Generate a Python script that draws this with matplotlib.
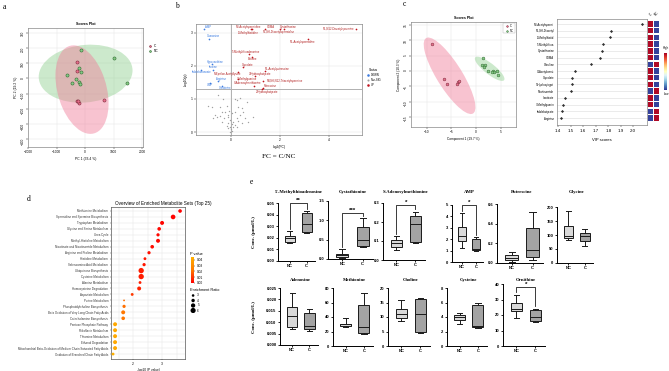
import numpy as np
import matplotlib
matplotlib.use('Agg')
import matplotlib.pyplot as plt
from matplotlib.patches import Ellipse, Rectangle
from matplotlib.colors import LinearSegmentedColormap, Normalize

W, H = 669, 371
fig = plt.figure(figsize=(W / 100, H / 100), dpi=100)
SANS = 'Liberation Sans'
SERIF = 'Liberation Serif'
plt.rcParams['font.family'] = SANS

# ---------------- DATA ----------------
# panel a: PCA scores
pca_c_x = [-280, -280, -280, -210, -250, 670]
pca_c_y = [107, 47, -147, -160, -150, -140]
pca_nc_x = [-140, 1018, -210, -140, -630, -315, -456, -210, -175, 1475]
pca_nc_y = [187, 133, 67, 40, 20, -7, -33, -27, -40, -33]

# panel b: volcano
up_names = ['N1,N12-Diacetylspermine', 'N8-Acetylspermidine', '1-Methylhistidine', 'SDMA',
            'Cystathionine', 'N1,N8-Diacetylspermidine', 'N1-Acetylspermidine',
            "5'-Methylthioadenosine", 'Betaine', 'Glycolate', 'N1-Acetylputrescine',
            '3-Hydroxybutyrate', 'N-Epsilon-Acetyllysine', '7-Methylguanine',
            'N4,N8,N12-Triacetylspermine', 'S-Adenosylmethionine', 'Putrescine',
            '2-Hydroxybutyrate']
up_x = [5.1, 0.82, 0.86, 1.39, 2.0, 2.16, 3.14, 0.73, 0.86, 0.5, 1.39, 1.0, 0.27, 0.27, 1.3, 0.95, 1.3, 1.25]
up_y = [3.12, 3.12, 3.12, 3.12, 3.12, 3.12, 2.82, 2.36, 2.28, 1.97, 1.85, 1.7, 1.82, 1.6, 1.55, 1.39, 1.34, 1.31]
down_names = ['AMP', 'Guanosine', 'Hypoxanthine', 'Inosine', 'Indolebutanoate', 'Arginine', 'UMP', 'Creatinine']
down_x = [-1.1, -0.9, -0.78, -0.73, -1.22, -0.53, -0.86, -0.37]
down_y = [3.12, 2.82, 2.06, 1.88, 1.88, 1.55, 1.48, 1.39]
ns_x = [-0.52, -0.34, 0.16, 0.37, 0.23, 0.64, -0.93, -0.79, -0.45, -0.18, 0.27, 0.44, -0.38, -0.24,
        -0.07, 0.15, 0.51, -0.65, -0.45, -0.11, 0.05, 0.37, -0.72, -0.58, -0.27, -0.11, 0.23, 0.57,
        0.91, -0.04, 0.1, 0.3, -0.38, -0.11, 0.03, 0.16, -0.18, -0.04, 0.1, -0.11, 0.0, 0.05, -0.05,
        0.23, 0.44, 0.71]
ns_y = [1.12, 1.0, 1.0, 1.02, 0.97, 0.92, 0.79, 0.77, 0.75, 0.79, 0.75, 0.72, 0.62, 0.62, 0.63,
        0.62, 0.62, 0.52, 0.49, 0.52, 0.57, 0.52, 0.41, 0.44, 0.41, 0.44, 0.41, 0.41, 0.44, 0.36,
        0.31, 0.34, 0.31, 0.26, 0.24, 0.21, 0.18, 0.16, 0.14, 0.11, 0.08, 0.04, 0.01, 0.16, 0.26, 0.31]

# panel c: PLS-DA scores
pls_c_x = [-8.9, -6.5, -5.9, -3.65, -3.45, -3.85]
pls_c_y = [8.8, -2.6, -4.2, -3.6, -3.3, -4.2]
pls_nc_x = [1.4, 1.2, 1.8, 1.6, 2.4, 3.45, 3.65, 4.3, 4.5, 3.25]
pls_nc_y = [4.2, 2.0, 2.0, 1.3, 0.0, 0.0, -0.3, 0.0, -1.3, -0.3]

# panel c: VIP
vip_names = ['N8-Acetylspermi', 'N1,N8-Diacetyl', '1-Methylhistid', "5'-Methylthioa", 'Cystathionine',
             'SDMA', 'Citrulline', 'O-Acetylcarnit', 'Glycolate', '5-Hydroxytrypt', 'Nicotinamide',
             'Isocitrate', '7-Methylguanin', 'Indolebutyrate', 'Arginine']
vip_scores = [2.07, 1.82, 1.81, 1.76, 1.75, 1.73, 1.66, 1.53, 1.51, 1.51, 1.50, 1.45, 1.44, 1.43, 1.42]
vip_high_c = [1, 1, 1, 1, 1, 1, 0, 1, 1, 1, 0, 1, 1, 0, 0]

# panel d: enrichment
path_names = ['Methionine Metabolism', 'Spermidine and Spermine Biosynthesis', 'Tryptophan Metabolism',
              'Glycine and Serine Metabolism', 'Urea Cycle', 'Methyl-Histidine Metabolism',
              'Nicotinate and Nicotinamide Metabolism', 'Arginine and Proline Metabolism',
              'Histidine Metabolism', 'Selenoamino Acid Metabolism', 'Ubiquinone Biosynthesis',
              'Cysteine Metabolism', 'Alanine Metabolism', 'Homocysteine Degradation',
              'Aspartate Metabolism', 'Purine Metabolism', 'Phosphatidylcholine Biosynthesis',
              'Beta Oxidation of Very Long Chain Fatty Acids', 'Catecholamine Biosynthesis',
              'Pentose Phosphate Pathway', 'Riboflavin Metabolism', 'Thiamine Metabolism',
              'Ethanol Degradation',
              'Mitochondrial Beta-Oxidation of Medium Chain Saturated Fatty Acids',
              'Oxidation of Branched Chain Fatty Acids']
path_neglogp = [3.62, 3.38, 3.0, 2.9, 2.86, 2.86, 2.66, 2.55, 2.41, 2.38, 2.28, 2.28, 2.24, 2.21,
                1.97, 1.69, 1.69, 1.66, 1.66, 1.38, 1.38, 1.38, 1.38, 1.38, 1.31]
path_ratio = [4.2, 5.4, 4.6, 4.2, 3.75, 4.6, 4.2, 3.75, 3.3, 3.75, 6.2, 6.2, 3.3, 4.6, 3.3, 2.1,
              3.75, 4.6, 4.2, 4.6, 4.6, 4.6, 4.6, 4.6, 3.3]

# panel e: box plots (whislo, q1, median, q3, whishi)
box_names = ["5'-Methylthioadenosine", 'Cystathionine', 'S-Adenosylmethionine', 'AMP', 'Putrescine',
             'Glycine', 'Adenosine', 'Methionine', 'Choline', 'Cysteine', 'Ornithine']
groups = ['NC', 'C']
nc_stats = [(0.0155, 0.0164, 0.0195, 0.0216, 0.026), (0.03, 0.05, 0.1, 0.13, 0.25),
            (0.055, 0.07, 0.088, 0.105, 0.125), (1.25, 1.8, 2.3, 3.1, 4.3),
            (0.015, 0.035, 0.055, 0.085, 0.11), (82, 90, 95, 132, 185),
            (0.0072, 0.008, 0.0128, 0.0168, 0.023), (26, 28, 30, 31, 38),
            (8.5, 9.6, 11, 12.7, 16), (3.0, 3.6, 4.0, 4.3, 4.6), (18, 22.5, 24, 28, 33)]
c_stats = [(0.0245, 0.025, 0.032, 0.0414, 0.043), (0.32, 0.33, 0.5, 0.82, 1.05),
           (0.09, 0.095, 0.19, 0.23, 0.255), (1.0, 1.05, 1.15, 2.0, 2.2),
           (0.035, 0.065, 0.135, 0.355, 0.52), (62, 77, 95, 108, 120),
           (0.006, 0.007, 0.0085, 0.014, 0.0157), (16, 18, 26, 56, 73),
           (4.5, 4.7, 11, 16.2, 16.5), (2.5, 2.6, 2.8, 5.6, 6.0), (15.5, 16, 19, 23.5, 24)]
box_ymax = [0.05, 1.5, 0.3, 5, 0.6, 200, 0.025, 80, 20, 8, 40]
box_ystep = [0.01, 0.5, 0.1, 1, 0.2, 50, 0.005, 20, 5, 2, 10]
box_fmt = ['%.2f', '%.1f', '%.1f', '%d', '%.1f', '%d', '%.3f', '%d', '%d', '%d', '%d']
sig_marks = {0: ('**', 0.05), 1: ('***', 1.2), 2: ('*', 0.29), 3: ('*', 5.0), 10: ('*', 38)}


# ---------------- helpers ----------------
def pax(x0, y0, x1, y1):
    return fig.add_axes([x0 / W, 1 - y1 / H, (x1 - x0) / W, (y1 - y0) / H])


def ftext(x, y, s, **kw):
    fig.text(x / W, 1 - y / H, s, **kw)


def conf_ellipse(ax, xs, ys, color):
    xs, ys = np.asarray(xs, float), np.asarray(ys, float)
    cov = np.cov(xs, ys)
    vals, vecs = np.linalg.eigh(cov)
    order = vals.argsort()[::-1]
    vals, vecs = vals[order], vecs[:, order]
    ang = np.degrees(np.arctan2(vecs[1, 0], vecs[0, 0]))
    k = np.sqrt(5.991)
    e = Ellipse((xs.mean(), ys.mean()), 2 * k * np.sqrt(vals[0]), 2 * k * np.sqrt(vals[1]),
                angle=ang, facecolor=color, edgecolor='none', alpha=0.45, zorder=1)
    ax.add_patch(e)


def small_axes_style(ax, fs=2.3):
    ax.tick_params(labelsize=fs, length=1.2, width=0.3, pad=1)
    for s in ax.spines.values():
        s.set_color('#888888')
        s.set_linewidth(0.5)
    ax.grid(True, color='#e4e4e4', lw=0.35)
    ax.set_axisbelow(True)


PINK_E, GREEN_E = '#f07a98', '#8fd08f'
PINK_P, GREEN_P = '#e8708c', '#86c986'

# panel labels
for lab, (x, y) in zip('abcde', [(3, 9), (175, 8), (403, 6), (27, 201), (250, 184)]):
    ftext(x, y, lab, fontsize=5.5, family=SERIF)

# ---------------- panel a ----------------
axa = pax(28, 28, 143, 147)
small_axes_style(axa)
conf_ellipse(axa, pca_nc_x, pca_nc_y, GREEN_E)
conf_ellipse(axa, pca_c_x, pca_c_y, PINK_E)
axa.scatter(pca_c_x, pca_c_y, s=5, c=PINK_P, edgecolors='#7a2a3a', linewidths=0.4, zorder=3, label='C')
axa.scatter(pca_nc_x, pca_nc_y, s=5, c=GREEN_P, edgecolors='#2f6a2f', linewidths=0.4, zorder=3, label='NC')
axa.set_xlim(-2000, 2035)
axa.set_ylim(-450, 330)
axa.set_xticks([-2000, -1000, 0, 1000, 2000])
axa.set_yticks([-400, -300, -200, -100, 0, 100, 200, 300])
axa.tick_params(axis='y', labelrotation=90)
axa.set_title('Scores Plot', fontsize=2.6, fontweight='bold', pad=2)
axa.set_xlabel('PC 1 (33.4 %)', fontsize=2.4, labelpad=2)
axa.set_ylabel('PC 2 (19.2 %)', fontsize=2.4, labelpad=2)
axa.legend(loc='upper left', bbox_to_anchor=(1.02, 0.88), fontsize=2.3, frameon=False,
           handletextpad=0.1, labelspacing=0.2, markerscale=0.6, borderpad=0)

# ---------------- panel b ----------------
axb = pax(196, 24, 362, 135)
small_axes_style(axb)
axb.axhline(1.3, color='#b0b0b0', lw=0.7, zorder=1)
axb.axvline(0, color='#b0b0b0', lw=0.7, zorder=1)
axb.scatter(ns_x, ns_y, s=1.0, c='#a0a0a0', linewidths=0, zorder=2, label='Non-SIG')
axb.scatter(down_x, down_y, s=1.5, c='#3b7be0', linewidths=0, zorder=3, label='DOWN')
axb.scatter(up_x, up_y, s=1.5, c='#c0141e', linewidths=0, zorder=3, label='UP')
up_off = [(-1, 0, 'right'), (-2, 1.5, 'center'), (-3, -3, 'center'), (1, 1.5, 'left'),
          (6, 1.5, 'center'), (-4, -2.5, 'center'), (-4, -2.5, 'center'), (-2, 1.5, 'center'),
          (0, -1.5, 'center'), (3, 1.5, 'center'), (0, 1.5, 'left'), (3, 1.5, 'center'),
          (-7, -1.5, 'center'), (7, 0, 'center'), (3, 0, 'left'), (-5, 2, 'center'),
          (1, 1.5, 'left'), (4, -2, 'center')]
for n, x, y, (dx, dy, ha) in zip(up_names, up_x, up_y, up_off):
    axb.annotate(n, (x, y), xytext=(dx, dy), textcoords='offset points', ha=ha, va='center',
                 fontsize=2.0, color='#b22020', annotation_clip=False)
dn_off = [(1, 1.5, 'left'), (3, 2, 'center'), (2, 1.5, 'center'), (0, 2, 'center'),
          (0, -1.5, 'center'), (2, 1.5, 'center'), (0, -1.5, 'center'), (2, -1.5, 'center')]
for n, x, y, (dx, dy, ha) in zip(down_names, down_x, down_y, dn_off):
    axb.annotate(n, (x, y), xytext=(dx, dy), textcoords='offset points', ha=ha, va='center',
                 fontsize=2.0, color='#3b7be0', annotation_clip=False)
axb.set_xlim(-1.43, 5.35)
axb.set_ylim(-0.09, 3.27)
axb.set_xticks([0, 2, 4])
axb.set_yticks([0, 1, 2, 3])
axb.set_xlabel('log2(FC)', fontsize=2.4, labelpad=2)
axb.set_ylabel('-log10(p)', fontsize=2.4, labelpad=2)
h, l = axb.get_legend_handles_labels()
order = [l.index('DOWN'), l.index('Non-SIG'), l.index('UP')]
axb.legend([h[i] for i in order], [l[i] for i in order], title='Status', fontsize=2.0,
           title_fontsize=2.3, frameon=False, loc='upper left',
           bbox_to_anchor=(364 / W, 1 - 67 / H), bbox_transform=fig.transFigure,
           handletextpad=0.1, labelspacing=0.3, markerscale=1.5, borderpad=0)
ftext(279, 157, 'FC = C/NC', fontsize=5.2, family=SERIF, ha='center', va='center')

# ---------------- panel c: scores ----------------
axc = pax(411, 22, 516, 127)
small_axes_style(axc)
conf_ellipse(axc, pls_c_x, pls_c_y, PINK_E)
conf_ellipse(axc, pls_nc_x, pls_nc_y, GREEN_E)
axc.scatter(pls_c_x, pls_c_y, s=4, c=PINK_P, edgecolors='#7a2a3a', linewidths=0.35, zorder=3, label='C')
axc.scatter(pls_nc_x, pls_nc_y, s=4, c=GREEN_P, edgecolors='#2f6a2f', linewidths=0.35, zorder=3, label='NC')
axc.set_xlim(-13.2, 8.1)
axc.set_ylim(-18.2, 16)
axc.set_xticks([-10, -5, 0, 5])
axc.set_yticks([-15, -10, -5, 0, 5, 10, 15])
axc.tick_params(axis='y', labelrotation=90)
axc.set_title('Scores Plot', fontsize=2.6, fontweight='bold', pad=2)
axc.set_xlabel('Component 1 (19.7 %)', fontsize=2.3, labelpad=2)
axc.set_ylabel('Component 2 (10.3 %)', fontsize=2.3, labelpad=2)
lg = axc.legend(loc='upper right', fontsize=2.0, frameon=True, handletextpad=0.1,
                labelspacing=0.1, markerscale=0.6, borderpad=0.3, fancybox=False)
lg.get_frame().set_linewidth(0.3)
lg.get_frame().set_edgecolor('#999999')

# ---------------- panel c: VIP ----------------
axv = pax(557, 19, 647, 125)
ypos = np.arange(len(vip_names))
axv.scatter(vip_scores, ypos, s=2.5, c='#333333', marker='D', linewidths=0, zorder=3)
axv.set_ylim(len(vip_names) - 1 + 1.04, -0.745)
axv.set_xlim(1.39, 2.11)
axv.set_yticks(ypos)
axv.set_yticklabels(vip_names)
axv.set_xticks([1.4, 1.5, 1.6, 1.7, 1.8, 1.9, 2.0])
axv.set_xticklabels(['1.4', '1.5', '1.6', '1.7', '1.8', '1.9', '2.0'])
axv.tick_params(axis='y', labelsize=2.0, length=0, pad=2)
axv.tick_params(axis='x', labelsize=3.2, length=1.2, width=0.3, pad=2)
for s in axv.spines.values():
    s.set_color('#888888')
    s.set_linewidth(0.5)
axv.grid(True, axis='y', color='#dcdcdc', lw=0.4)
axv.set_axisbelow(True)
axv.set_xlabel('VIP scores', fontsize=3.0, labelpad=3)

axh = pax(648, 19, 659, 125)
axh.set_xlim(0, 2)
axh.set_ylim(axv.get_ylim())
axh.axis('off')
hcmap = plt.get_cmap('RdYlBu_r')
for i, hc in enumerate(vip_high_c):
    for j, v in enumerate([hc, 1 - hc]):
        axh.add_patch(Rectangle((j + 0.06, i - 0.4), 0.88, 0.8, facecolor=hcmap(0.98 if v else 0.02),
                                edgecolor='none'))
ftext(651, 16, 'C', fontsize=2.3, rotation=45, ha='center')
ftext(656.5, 16, 'NC', fontsize=2.3, rotation=45, ha='center')
cax = pax(664, 53, 667, 90)
cb = fig.colorbar(plt.cm.ScalarMappable(Normalize(0, 1), hcmap), cax=cax)
cb.set_ticks([])
cb.outline.set_visible(False)
ftext(666, 49, 'High', fontsize=2.2, ha='center')
ftext(666, 95, 'Low', fontsize=2.2, ha='center')

# ---------------- panel d ----------------
axd = pax(111, 207, 185, 359)
pcmap = LinearSegmentedColormap.from_list('pv', ['#ff0000', '#ff7a00', '#ffb000'])
pnorm = Normalize(0, 0.045)
pvals = 10 ** (-np.array(path_neglogp))
rows = np.arange(len(path_names))
size_of = lambda r: (0.62 * np.asarray(r)) ** 2
sc = axd.scatter(path_neglogp, rows, s=size_of(path_ratio), c=pvals, cmap=pcmap, norm=pnorm,
                 linewidths=0, zorder=3)
axd.set_ylim(len(path_names) - 1 + 0.83, -0.67)
axd.set_xlim(1.24, 3.79)
axd.set_yticks(rows)
axd.set_yticklabels(path_names)
axd.set_xticks([2, 3])
axd.set_xticks([1.5, 2.5, 3.5], minor=True)
axd.tick_params(axis='y', labelsize=2.1, length=1, width=0.3, pad=1, colors='#333333')
axd.tick_params(axis='x', labelsize=2.4, length=1, width=0.3, pad=1)
axd.tick_params(axis='x', which='minor', length=0)
axd.grid(True, which='both', color='#e6e6e6', lw=0.35)
axd.set_axisbelow(True)
for s in axd.spines.values():
    s.set_color('#555555')
    s.set_linewidth(0.5)
axd.set_xlabel('-log10 (P value)', fontsize=2.3, labelpad=1.5)
ftext(163, 203, 'Overview of Enriched Metabolite Sets (Top 25)', fontsize=3.3, ha='center', va='center')
ftext(190, 254, 'P value', fontsize=2.8, va='center')
pcax = pax(191, 257, 194, 283)
pcb = fig.colorbar(sc, cax=pcax)
pcb.set_ticks([0, 0.01, 0.02, 0.03, 0.04])
pcb.set_ticklabels(['0.00', '0.01', '0.02', '0.03', '0.04'])
pcb.ax.tick_params(labelsize=2.3, length=0.8, width=0.3, pad=1)
pcb.outline.set_visible(False)
ftext(190, 290, 'Enrichment Ratio', fontsize=2.8, va='center')
legr = [3, 4, 5, 6]
axl = pax(188, 293, 205, 313)
axl.set_xlim(0, 1)
axl.set_ylim(3.5, -0.5)
axl.axis('off')
axl.scatter([0.3] * 4, np.arange(4), s=size_of(legr), c='black', linewidths=0)
for i, r in enumerate(legr):
    axl.text(0.55, i, str(r), fontsize=2.3, va='center')

# ---------------- panel e ----------------
box_rects = [(278, 203, 315, 261), (328, 201, 373, 259), (383, 203, 425, 260), (452, 205, 483, 262),
             (497, 204, 543, 263), (557, 207, 593, 263),
             (280, 288, 318, 345), (333, 288, 373, 346), (388, 288, 430, 346), (447, 288, 487, 346),
             (503, 284, 545, 346)]
for k, name in enumerate(box_names):
    x0, y0, x1, y1 = box_rects[k]
    ax = pax(x0, y0, x1, y1)
    stats = []
    for st in (nc_stats[k], c_stats[k]):
        lo, q1, med, q3, hi = st
        stats.append(dict(whislo=lo, q1=q1, med=med, q3=q3, whishi=hi, fliers=[]))
    bp = ax.bxp(stats, positions=[1, 2], widths=0.6, patch_artist=True, showfliers=False,
                boxprops=dict(linewidth=0.7, edgecolor='#1a1a1a'),
                medianprops=dict(color='#1a1a1a', linewidth=0.7),
                whiskerprops=dict(linewidth=0.7, color='#1a1a1a'),
                capprops=dict(linewidth=0.7, color='#1a1a1a'), capwidths=0.3)
    for patch, fc in zip(bp['boxes'], ['#d9d9d9', '#a3a3a3']):
        patch.set_facecolor(fc)
    ymax = box_ymax[k]
    ax.set_ylim(0, ymax)
    ax.set_xlim(0.3, 2.5)
    ax.set_yticks(np.arange(0, ymax + box_ystep[k] / 2, box_ystep[k]))
    ax.yaxis.set_major_formatter(matplotlib.ticker.FormatStrFormatter(box_fmt[k]))
    ax.set_xticks([1, 2])
    ax.set_xticklabels(groups)
    for s in ['top', 'right']:
        ax.spines[s].set_visible(False)
    for s in ['left', 'bottom']:
        ax.spines[s].set_linewidth(0.7)
    ax.tick_params(labelsize=3.0, length=1.5, width=0.6, pad=1)
    for t in ax.get_xticklabels() + ax.get_yticklabels():
        t.set_fontweight('bold')
    if k in sig_marks:
        mark, yb = sig_marks[k]
        d1 = stats[0]['whishi'] + 0.04 * ymax
        d2 = stats[1]['whishi'] + 0.04 * ymax
        ax.plot([1, 1, 2, 2], [d1, yb, yb, d2], color='#1a1a1a', lw=0.6, clip_on=False)
        ax.text(1.5, yb, mark, ha='center', va='bottom', fontsize=4.5, fontweight='bold',
                clip_on=False)
    ty = 192 if k < 6 else 280
    ftext((x0 + x1) / 2 + 2, ty, name, fontsize=3.4, family=SERIF, fontweight='bold',
          ha='center', va='center')

ftext(254, 232, 'Conc. (μmol/L)', fontsize=3.5, family=SERIF, fontweight='bold', rotation=90,
      ha='center', va='center')
ftext(254, 317, 'Conc. (μmol/L)', fontsize=3.5, family=SERIF, fontweight='bold', rotation=90,
      ha='center', va='center')

fig.savefig('out.png', dpi=100)
